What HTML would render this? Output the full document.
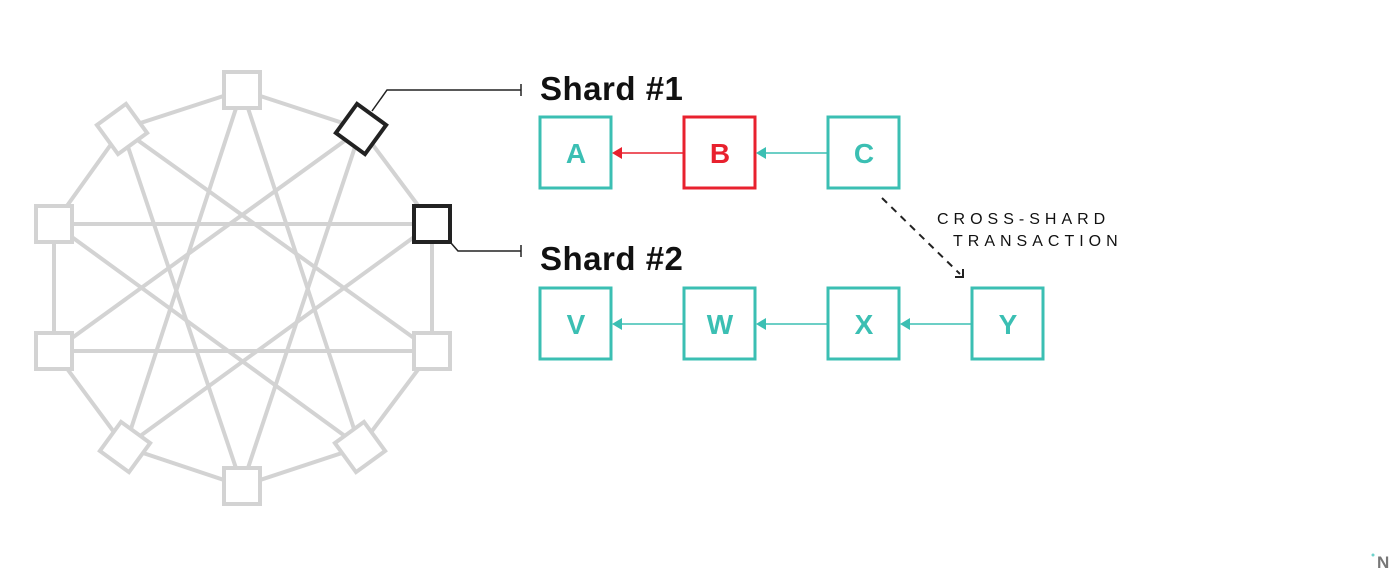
<!DOCTYPE html>
<html><head><style>
html,body{margin:0;padding:0;background:#fff;}
svg{display:block;}
text{font-family:"Liberation Sans",sans-serif;}
</style></head><body>
<svg width="1400" height="576" viewBox="0 0 1400 576" xmlns="http://www.w3.org/2000/svg">
<g stroke="#d3d3d3" stroke-width="4" fill="none">
<polyline points="242,90 361,129 432,224 432,351 360,447 242,486 125,447 54,351 54,224 122,129 242,90"/>
<line x1="242" y1="90" x2="360" y2="447"/>
<line x1="242" y1="90" x2="125" y2="447"/>
<line x1="361" y1="129" x2="242" y2="486"/>
<line x1="361" y1="129" x2="54" y2="351"/>
<line x1="432" y1="224" x2="54" y2="224"/>
<line x1="432" y1="224" x2="125" y2="447"/>
<line x1="432" y1="351" x2="54" y2="351"/>
<line x1="432" y1="351" x2="122" y2="129"/>
<line x1="360" y1="447" x2="54" y2="224"/>
<line x1="242" y1="486" x2="122" y2="129"/>
</g>
<g stroke="#d3d3d3" stroke-width="4" fill="#fff">
<rect x="224" y="72" width="36" height="36"/>
<rect x="36" y="206" width="36" height="36"/>
<rect x="36" y="333" width="36" height="36"/>
<rect x="414" y="333" width="36" height="36"/>
<rect x="224" y="468" width="36" height="36"/>
<rect x="104" y="111" width="36" height="36" transform="rotate(-36 122 129)"/>
<rect x="107" y="429" width="36" height="36" transform="rotate(36 125 447)"/>
<rect x="342" y="429" width="36" height="36" transform="rotate(-36 360 447)"/>
</g>
<g stroke="#222" stroke-width="4" fill="#fff">
<rect x="343" y="111" width="36" height="36" transform="rotate(36 361 129)"/>
<rect x="414" y="206" width="36" height="36"/>
</g>
<g stroke="#222" stroke-width="1.5" fill="none">
<polyline points="372,111 387,90 521,90"/>
<line x1="521" y1="84" x2="521" y2="96"/>
<polyline points="451,243 458,251 521,251"/>
<line x1="521" y1="245" x2="521" y2="257"/>
</g>
<text x="540" y="100" font-size="33" font-weight="bold" letter-spacing="0.5" fill="#111">Shard #1</text>
<text x="540" y="270" font-size="33" font-weight="bold" letter-spacing="0.5" fill="#111">Shard #2</text>
<g stroke-width="3" fill="none">
<rect x="540" y="117" width="71" height="71" stroke="#3bbfb3"/>
<rect x="684" y="117" width="71" height="71" stroke="#e8212e"/>
<rect x="828" y="117" width="71" height="71" stroke="#3bbfb3"/>
<rect x="540" y="288" width="71" height="71" stroke="#3bbfb3"/>
<rect x="684" y="288" width="71" height="71" stroke="#3bbfb3"/>
<rect x="828" y="288" width="71" height="71" stroke="#3bbfb3"/>
<rect x="972" y="288" width="71" height="71" stroke="#3bbfb3"/>
</g>
<g stroke-width="1.5">
<line x1="684" y1="153" x2="620" y2="153" stroke="#e8212e"/>
<line x1="828" y1="153" x2="764" y2="153" stroke="#3bbfb3"/>
<line x1="684" y1="324" x2="620" y2="324" stroke="#3bbfb3"/>
<line x1="828" y1="324" x2="764" y2="324" stroke="#3bbfb3"/>
<line x1="972" y1="324" x2="908" y2="324" stroke="#3bbfb3"/>
</g>
<polygon points="612,153 622,147 622,159" fill="#e8212e"/>
<polygon points="756,153 766,147 766,159" fill="#3bbfb3"/>
<polygon points="612,324 622,318 622,330" fill="#3bbfb3"/>
<polygon points="756,324 766,318 766,330" fill="#3bbfb3"/>
<polygon points="900,324 910,318 910,330" fill="#3bbfb3"/>
<g font-size="28" font-weight="bold" text-anchor="middle" fill="#3bbfb3">
<text x="576" y="163">A</text>
<text x="720" y="163" fill="#e8212e">B</text>
<text x="864" y="163">C</text>
<text x="576" y="334">V</text>
<text x="720" y="334">W</text>
<text x="864" y="334">X</text>
<text x="1008" y="334">Y</text>
</g>
<line x1="882" y1="198" x2="960" y2="274" stroke="#222" stroke-width="2" stroke-dasharray="7,6"/>
<polyline points="955,277 963,277 963,269" stroke="#222" stroke-width="2" fill="none"/>
<text x="937" y="224" font-size="16" letter-spacing="5" fill="#111">CROSS-SHARD</text>
<text x="953" y="246" font-size="16" letter-spacing="5" fill="#111">TRANSACTION</text>
<circle cx="1373" cy="555" r="1.5" fill="#6fd3cc"/>
<text x="1377" y="568" font-size="17" font-weight="bold" fill="#777">N</text>
</svg>
</body></html>
